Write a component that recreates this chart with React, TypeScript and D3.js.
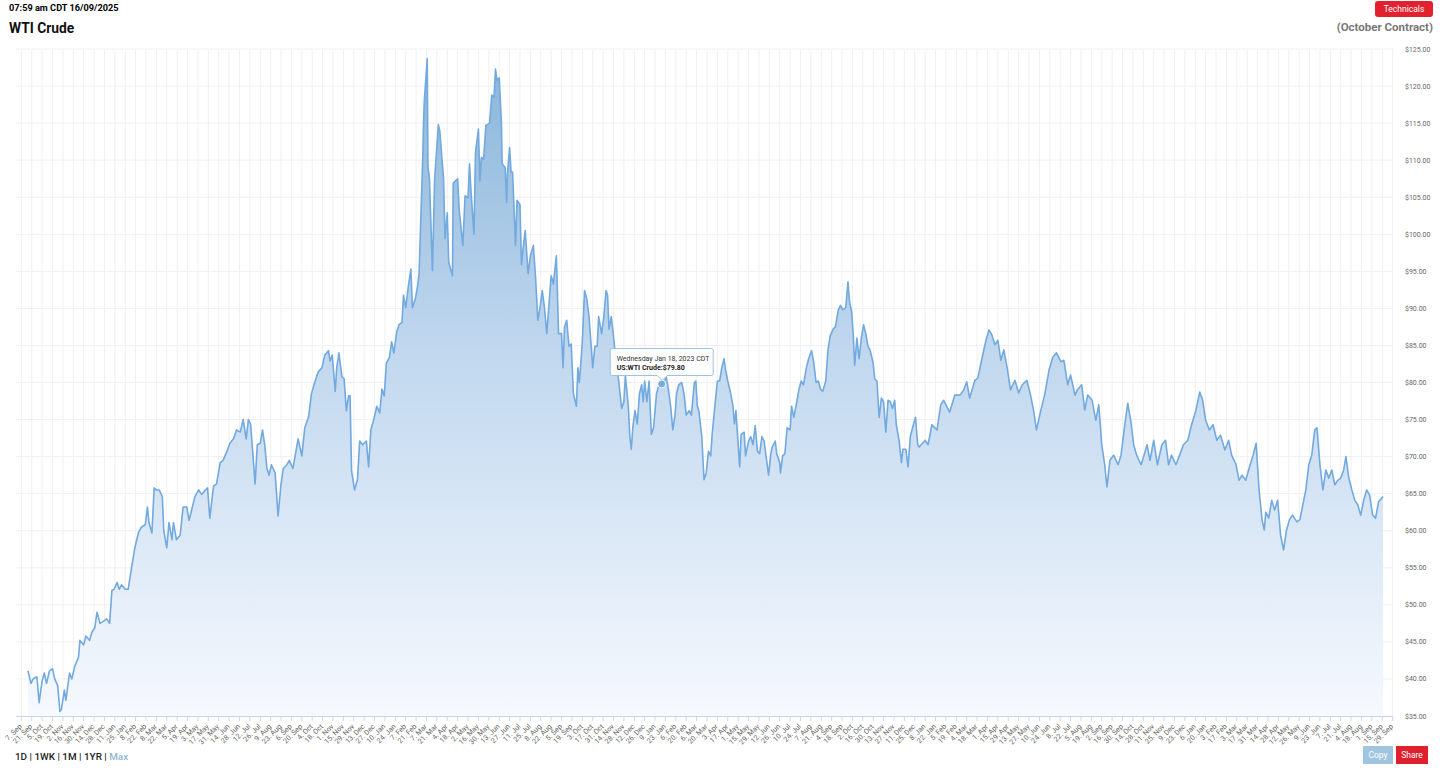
import React from "react";
import * as d3 from "d3";

type Pt = [string, number];

const wti2020: Pt[] = [["2020-09-16",41.1],["2020-09-20",39.4],["2020-09-23",40.0],["2020-09-28",40.3],["2020-10-01",36.8],["2020-10-05",39.7],["2020-10-08",40.8],["2020-10-11",39.4],["2020-10-15",41.1],["2020-10-19",41.4],["2020-10-22",40.0],["2020-10-26",39.1],["2020-10-29",35.6],["2020-10-31",35.9],["2020-11-04",38.5],["2020-11-06",37.1],["2020-11-11",40.8],["2020-11-14",40.0],["2020-11-18",41.7],["2020-11-23",42.9],["2020-11-25",45.2],["2020-11-30",44.6],["2020-12-03",45.8],["2020-12-08",45.2],["2020-12-11",46.3],["2020-12-15",46.9],["2020-12-18",49.0],["2020-12-22",47.5],["2020-12-27",47.8],["2020-12-31",48.1]];

const wti2021: Pt[] = [["2021-01-04",47.5],["2021-01-07",51.9],["2021-01-10",52.1],["2021-01-14",53.0],["2021-01-17",52.1],["2021-01-20",52.7],["2021-01-25",52.1],["2021-01-29",52.1],["2021-02-03",55.3],["2021-02-07",57.7],["2021-02-12",59.8],["2021-02-16",60.5],["2021-02-21",60.8],["2021-02-24",63.2],["2021-02-26",61.1],["2021-03-02",59.7],["2021-03-05",65.8],["2021-03-08",65.5],["2021-03-12",65.5],["2021-03-16",64.6],["2021-03-18",60.0],["2021-03-22",57.7],["2021-03-25",61.1],["2021-03-29",58.8],["2021-03-31",61.1],["2021-04-04",58.8],["2021-04-09",59.4],["2021-04-13",63.2],["2021-04-18",63.2],["2021-04-21",61.4],["2021-04-26",63.4],["2021-04-29",64.6],["2021-05-04",65.5],["2021-05-08",64.9],["2021-05-13",65.5],["2021-05-16",65.8],["2021-05-19",61.7],["2021-05-24",66.0],["2021-05-28",66.3],["2021-06-02",69.2],["2021-06-06",69.5],["2021-06-11",70.7],["2021-06-15",71.8],["2021-06-20",72.4],["2021-06-24",73.6],["2021-06-29",73.3],["2021-07-03",75.0],["2021-07-07",72.4],["2021-07-10",75.0],["2021-07-13",74.4],["2021-07-16",70.4],["2021-07-19",66.3],["2021-07-22",71.6],["2021-07-26",71.8],["2021-07-29",73.6],["2021-08-01",71.6],["2021-08-04",68.4],["2021-08-07",67.5],["2021-08-10",68.9],["2021-08-15",67.8],["2021-08-19",62.0],["2021-08-23",66.3],["2021-08-26",68.4],["2021-08-31",68.9],["2021-09-03",69.5],["2021-09-08",68.4],["2021-09-11",70.1],["2021-09-15",72.4],["2021-09-20",70.1],["2021-09-24",73.9],["2021-09-29",75.3],["2021-10-03",78.5],["2021-10-08",80.2],["2021-10-12",81.4],["2021-10-17",82.0],["2021-10-21",83.7],["2021-10-26",84.3],["2021-10-28",82.9],["2021-10-31",83.7],["2021-11-04",78.8],["2021-11-06",82.0],["2021-11-09",84.0],["2021-11-13",80.8],["2021-11-16",80.5],["2021-11-19",76.2],["2021-11-22",78.2],["2021-11-24",78.2],["2021-11-26",68.1],["2021-11-30",65.5],["2021-12-04",66.9],["2021-12-07",72.1],["2021-12-11",71.6],["2021-12-16",72.1],["2021-12-19",68.6],["2021-12-22",73.6],["2021-12-26",75.0],["2021-12-30",76.8]];

const wti2022: Pt[] = [["2022-01-03",75.9],["2022-01-06",79.1],["2022-01-09",78.2],["2022-01-12",82.6],["2022-01-16",83.4],["2022-01-19",85.5],["2022-01-22",84.0],["2022-01-26",86.9],["2022-01-29",87.8],["2022-02-02",88.1],["2022-02-04",91.8],["2022-02-07",90.1],["2022-02-11",93.3],["2022-02-14",95.3],["2022-02-16",90.1],["2022-02-20",91.3],["2022-02-23",93.0],["2022-02-25",94.7],["2022-03-02",110.4],["2022-03-03",115.0],["2022-03-04",117.9],["2022-03-08",123.7],["2022-03-09",109.2],["2022-03-11",107.5],["2022-03-15",95.1],["2022-03-18",107.5],["2022-03-23",114.8],["2022-03-25",113.9],["2022-03-30",107.5],["2022-04-01",99.4],["2022-04-04",102.9],["2022-04-06",96.2],["2022-04-11",94.4],["2022-04-12",106.9],["2022-04-18",107.5],["2022-04-20",103.4],["2022-04-25",98.5],["2022-04-28",105.2],["2022-05-02",104.9],["2022-05-04",109.5],["2022-05-06",105.8],["2022-05-10",100.0],["2022-05-12",111.0],["2022-05-16",114.2],["2022-05-18",107.2],["2022-05-20",110.4],["2022-05-23",110.1],["2022-05-26",114.7],["2022-05-31",115.0],["2022-06-03",118.8],["2022-06-06",118.5],["2022-06-08",122.3],["2022-06-10",120.8],["2022-06-13",121.1],["2022-06-14",119.1],["2022-06-16",115.0],["2022-06-17",109.5],["2022-06-21",109.0],["2022-06-23",104.3],["2022-06-24",108.1],["2022-06-27",111.7],["2022-06-29",108.4],["2022-07-01",108.4],["2022-07-05",98.5],["2022-07-07",104.6],["2022-07-11",104.0],["2022-07-13",95.9],["2022-07-15",97.9],["2022-07-18",100.5],["2022-07-22",94.7],["2022-07-25",97.1],["2022-07-29",98.5],["2022-08-01",94.2],["2022-08-04",88.4],["2022-08-07",90.1],["2022-08-10",92.4],["2022-08-13",90.1],["2022-08-16",86.6],["2022-08-19",90.4],["2022-08-22",94.4],["2022-08-25",93.3],["2022-08-29",97.1],["2022-09-01",86.6],["2022-09-05",86.6],["2022-09-07",82.0],["2022-09-09",87.5],["2022-09-12",88.4],["2022-09-15",84.9],["2022-09-18",85.2],["2022-09-21",78.5],["2022-09-25",76.8],["2022-09-27",82.0],["2022-09-29",80.0],["2022-10-03",85.5],["2022-10-06",92.4],["2022-10-09",91.3],["2022-10-12",88.9],["2022-10-15",84.9],["2022-10-17",82.0],["2022-10-20",84.9],["2022-10-23",84.9],["2022-10-25",88.9],["2022-10-29",86.6],["2022-11-01",88.9],["2022-11-04",92.4],["2022-11-06",91.8],["2022-11-08",87.2],["2022-11-11",88.9],["2022-11-14",86.3],["2022-11-16",84.3],["2022-11-21",80.2],["2022-11-25",76.5],["2022-11-28",77.4],["2022-11-30",80.9],["2022-12-04",76.8],["2022-12-06",72.7],["2022-12-08",71.0],["2022-12-10",73.9],["2022-12-13",76.2],["2022-12-16",74.4],["2022-12-19",78.5],["2022-12-22",79.7],["2022-12-24",77.4],["2022-12-26",80.2],["2022-12-29",77.4]];

const wti2023: Pt[] = [["2023-01-01",80.2],["2023-01-04",73.0],["2023-01-07",73.9],["2023-01-11",78.5],["2023-01-15",80.0],["2023-01-18",79.8],["2023-01-21",80.0],["2023-01-24",80.8],["2023-01-27",79.1],["2023-01-30",76.8],["2023-02-02",73.6],["2023-02-05",75.6],["2023-02-07",78.5],["2023-02-10",79.7],["2023-02-14",80.0],["2023-02-17",78.5],["2023-02-20",75.6],["2023-02-24",76.2],["2023-02-27",75.6],["2023-03-03",80.0],["2023-03-05",80.2],["2023-03-07",76.8],["2023-03-09",76.2],["2023-03-13",72.7],["2023-03-16",66.9],["2023-03-19",67.8],["2023-03-22",70.7],["2023-03-25",70.1],["2023-03-27",73.0],["2023-03-30",76.2],["2023-04-03",80.2],["2023-04-06",80.2],["2023-04-09",82.0],["2023-04-12",83.2],["2023-04-14",81.7],["2023-04-17",80.2],["2023-04-21",78.5],["2023-04-24",76.8],["2023-04-26",74.4],["2023-04-28",76.2],["2023-05-03",68.6],["2023-05-05",73.0],["2023-05-09",73.3],["2023-05-11",70.1],["2023-05-15",72.1],["2023-05-18",72.7],["2023-05-21",71.6],["2023-05-24",74.2],["2023-05-27",70.7],["2023-05-30",70.4],["2023-06-02",72.7],["2023-06-05",72.1],["2023-06-08",69.8],["2023-06-11",67.5],["2023-06-14",70.4],["2023-06-16",71.3],["2023-06-20",72.1],["2023-06-22",70.4],["2023-06-26",69.2],["2023-06-27",67.8],["2023-06-30",70.1],["2023-07-03",70.4],["2023-07-06",73.9],["2023-07-10",73.6],["2023-07-12",76.8],["2023-07-15",75.3],["2023-07-19",77.4],["2023-07-22",79.1],["2023-07-25",80.2],["2023-07-28",79.7],["2023-08-01",82.0],["2023-08-04",83.2],["2023-08-08",84.3],["2023-08-11",82.6],["2023-08-14",80.0],["2023-08-17",80.2],["2023-08-20",79.1],["2023-08-23",78.8],["2023-08-27",80.2],["2023-08-30",84.3],["2023-09-02",86.3],["2023-09-06",87.2],["2023-09-09",87.5],["2023-09-13",89.8],["2023-09-16",90.4],["2023-09-19",89.8],["2023-09-23",90.1],["2023-09-26",93.6],["2023-09-28",91.0],["2023-10-01",89.5],["2023-10-03",86.6],["2023-10-05",82.3],["2023-10-08",86.0],["2023-10-11",83.2],["2023-10-14",86.0],["2023-10-17",87.8],["2023-10-20",86.6],["2023-10-23",84.9],["2023-10-26",84.3],["2023-10-30",82.6],["2023-11-01",80.5],["2023-11-04",80.2],["2023-11-07",75.3],["2023-11-10",77.9],["2023-11-13",77.4],["2023-11-16",73.3],["2023-11-19",77.6],["2023-11-22",77.4],["2023-11-25",76.5],["2023-11-28",77.6],["2023-11-30",74.4],["2023-12-04",72.1],["2023-12-07",69.2],["2023-12-09",71.0],["2023-12-13",71.0],["2023-12-16",68.6],["2023-12-19",72.7],["2023-12-22",73.9],["2023-12-26",75.3],["2023-12-29",71.6],["2023-12-31",71.3]];

const wti2024: Pt[] = [["2024-01-08",72.2],["2024-01-12",71.6],["2024-01-17",74.3],["2024-01-24",73.6],["2024-01-29",77.0],["2024-02-02",77.6],["2024-02-10",76.0],["2024-02-17",78.3],["2024-02-24",78.3],["2024-02-29",79.0],["2024-03-04",80.1],["2024-03-08",77.9],["2024-03-15",80.3],["2024-03-19",80.6],["2024-03-24",83.0],["2024-03-30",85.7],["2024-04-03",87.1],["2024-04-07",86.4],["2024-04-11",85.1],["2024-04-15",85.7],["2024-04-19",83.0],["2024-04-23",84.4],["2024-04-28",81.7],["2024-05-02",79.0],["2024-05-08",80.3],["2024-05-13",78.6],["2024-05-18",79.7],["2024-05-24",80.3],["2024-05-29",78.3],["2024-06-02",76.3],["2024-06-06",73.6],["2024-06-12",76.3],["2024-06-17",78.3],["2024-06-23",81.7],["2024-06-28",83.4],["2024-07-03",84.0],["2024-07-09",82.8],["2024-07-13",83.0],["2024-07-18",79.7],["2024-07-22",81.0],["2024-07-28",78.3],["2024-07-31",79.0],["2024-08-06",79.7],["2024-08-10",76.3],["2024-08-14",78.3],["2024-08-20",77.6],["2024-08-25",74.9],["2024-08-29",77.0],["2024-09-02",71.6],["2024-09-06",68.9],["2024-09-09",65.9],["2024-09-13",69.5],["2024-09-18",70.2],["2024-09-24",68.9],["2024-09-28",70.2],["2024-10-03",74.3],["2024-10-07",77.2],["2024-10-11",74.9],["2024-10-15",71.6],["2024-10-19",70.2],["2024-10-25",68.9],["2024-10-29",70.2],["2024-11-02",71.6],["2024-11-06",69.5],["2024-11-11",72.2],["2024-11-16",68.9],["2024-11-22",71.6],["2024-11-27",72.2],["2024-12-01",68.9],["2024-12-05",70.2],["2024-12-11",68.9],["2024-12-16",70.2],["2024-12-21",71.6],["2024-12-27",72.2]];

const wti2025: Pt[] = [["2025-01-01",74.3],["2025-01-07",76.3],["2025-01-12",78.7],["2025-01-16",77.6],["2025-01-20",74.9],["2025-01-25",73.6],["2025-01-30",74.3],["2025-02-04",72.2],["2025-02-09",72.9],["2025-02-15",70.9],["2025-02-20",72.2],["2025-02-24",70.2],["2025-03-02",68.9],["2025-03-06",66.8],["2025-03-10",67.5],["2025-03-15",66.8],["2025-03-21",68.9],["2025-03-25",70.2],["2025-03-29",71.8],["2025-04-02",65.5],["2025-04-06",61.5],["2025-04-09",60.1],["2025-04-11",62.5],["2025-04-15",61.7],["2025-04-19",64.1],["2025-04-23",62.8],["2025-04-27",64.1],["2025-05-01",59.4],["2025-05-05",57.4],["2025-05-09",60.1],["2025-05-13",61.5],["2025-05-17",62.1],["2025-05-23",61.2],["2025-05-27",61.5],["2025-05-31",63.5],["2025-06-04",65.5],["2025-06-08",68.9],["2025-06-12",70.2],["2025-06-16",73.6],["2025-06-19",73.9],["2025-06-23",68.9],["2025-06-27",65.5],["2025-07-01",68.2],["2025-07-05",67.1],["2025-07-09",68.2],["2025-07-13",66.2],["2025-07-17",66.8],["2025-07-21",67.1],["2025-07-25",68.2],["2025-07-28",70.0],["2025-08-01",67.1],["2025-08-05",65.5],["2025-08-09",64.1],["2025-08-13",63.5],["2025-08-17",62.1],["2025-08-21",64.1],["2025-08-25",65.5],["2025-08-29",64.8],["2025-09-02",62.1],["2025-09-06",61.7],["2025-09-10",63.9],["2025-09-16",64.6]];

const priceTicks = [35, 40, 45, 50, 55, 60, 65, 70, 75, 80, 85, 90, 95, 100, 105, 110, 115, 120, 125];
const rangeButtons = ["1D", "1WK", "1M", "1YR"];
const tooltipDate = "2023-01-18";

const W = 1456, H = 783;
const L = 16, R = 1393, T = 49, B = 716;

export default function App() {
  const parse = d3.timeParse("%Y-%m-%d");
  const data = [...wti2020, ...wti2021, ...wti2022, ...wti2023, ...wti2024, ...wti2025].map(([d, v]) => ({ date: parse(d) as Date, v }));
  const x = d3.scaleTime().domain([parse("2020-09-16") as Date, parse("2025-09-16") as Date]).range([28, 1383]);
  const y = d3.scaleLinear().domain([35, 125]).range([B, T]);
  const line = d3.line<{ date: Date; v: number }>().x(d => x(d.date)).y(d => y(d.v));
  const area = d3.area<{ date: Date; v: number }>().x(d => x(d.date)).y0(B).y1(d => y(d.v));
  const ticks = d3.timeDay.range(parse("2020-09-07") as Date, parse("2025-09-30") as Date, 14);
  const fmt = d3.timeFormat("%-d. %b");
  const tip = data.find(d => d3.timeFormat("%Y-%m-%d")(d.date) === tooltipDate)!;
  const tx = x(tip.date), ty = y(tip.v);
  const tipFmt = d3.timeFormat("%A %b %d, %Y");
  const font = "Roboto, 'Noto Sans', Arial, sans-serif";

  return (
    <div style={{ position: "absolute", left: 0, top: 0 }}>
      <svg width={W} height={H} style={{ display: "block", fontFamily: font }}>
        <defs>
          <linearGradient id="fillg" gradientUnits="userSpaceOnUse" x1="0" y1={T} x2="0" y2={B}>
            <stop offset="0%" stopColor="#88b4da" />
            <stop offset="45%" stopColor="#c0d7ee" />
            <stop offset="100%" stopColor="#f6f9fe" />
          </linearGradient>
        </defs>
        <rect x={0} y={0} width={W} height={H} fill="#fff" />
        {/* header */}
        <text x={9} y={11} fontSize={9.2} fontWeight={700} fill="#000">07:59 am CDT 16/09/2025</text>
        <text x={9} y={33} fontSize={13.8} fontWeight={700} fill="#111">WTI Crude</text>
        <rect x={1375} y={1} width={58} height={16} rx={3} fill="#e2202e" />
        <text x={1404} y={12} fontSize={8.5} fill="#fff" textAnchor="middle">Technicals</text>
        <text x={1433} y={31} fontSize={11.5} fontWeight={700} fill="#787878" textAnchor="end">(October Contract)</text>

        {/* grid */}
        {priceTicks.map(t => (
          <line key={"h" + t} x1={L} x2={R} y1={y(t)} y2={y(t)} stroke="#f0f0f0" strokeWidth={1} />
        ))}
        {ticks.map((t, i) => (
          <line key={"v" + i} x1={x(t)} x2={x(t)} y1={T} y2={B} stroke="#f0f0f0" strokeWidth={1} />
        ))}

        <path d={area(data) || ""} fill="url(#fillg)" />
        <path d={line(data) || ""} fill="none" stroke="#72a9df" strokeWidth={1.6} strokeLinejoin="round" />

        {/* x axis */}
        <line x1={L} x2={R} y1={B + 0.5} y2={B + 0.5} stroke="#ccd6eb" />
        {ticks.map((t, i) => (
          <g key={"t" + i}>
            <line x1={x(t)} x2={x(t)} y1={B} y2={B + 5} stroke="#ccd6eb" />
            <text transform={`translate(${x(t) + 1},${B + 11}) rotate(-45)`} fontSize={7.2} fill="#666" textAnchor="end">{fmt(t)}</text>
          </g>
        ))}

        {/* y axis labels */}
        {priceTicks.map(t => (
          <text key={"yl" + t} x={1405} y={y(t) + 2.5} fontSize={7} fill="#666">{"$" + t.toFixed(2)}</text>
        ))}

        {/* tooltip */}
        <circle cx={tx} cy={ty} r={4} fill="#72a9df" stroke="#fff" strokeWidth={1} opacity={0.9} />
        <path d={`M${tx - 49.5},348.5 h99 a2,2 0 0 1 2,2 v23 a2,2 0 0 1 -2,2 h-44 l-5,5 l-5,-5 h-45 a2,2 0 0 1 -2,-2 v-23 a2,2 0 0 1 2,-2 z`} fill="rgba(255,255,255,0.92)" stroke="#9fc1e0" strokeWidth={1} />
        <text x={tx - 45} y={361} fontSize={7} fill="#333">{tipFmt(tip.date) + " CDT"}</text>
        <text x={tx - 45} y={370} fontSize={7} fill="#222" fontWeight={700}>{"US:WTI Crude:$" + tip.v.toFixed(2)}</text>

        {/* range buttons */}
        <text x={15} y={760} fontSize={9.9} fill="#222" fontWeight={500}>
          {rangeButtons.map(b => (
            <tspan key={b}>{b + " | "}</tspan>
          ))}
          <tspan fill="#8fb6cc">Max</tspan>
        </text>
        <rect x={1363} y={746} width={30} height={18} fill="#9fc5e0" />
        <text x={1378} y={758} fontSize={8.5} fill="#fff" textAnchor="middle">Copy</text>
        <rect x={1396} y={746} width={32} height={18} fill="#e0202c" />
        <text x={1412} y={758} fontSize={8.5} fill="#fff" textAnchor="middle">Share</text>
      </svg>
    </div>
  );
}
